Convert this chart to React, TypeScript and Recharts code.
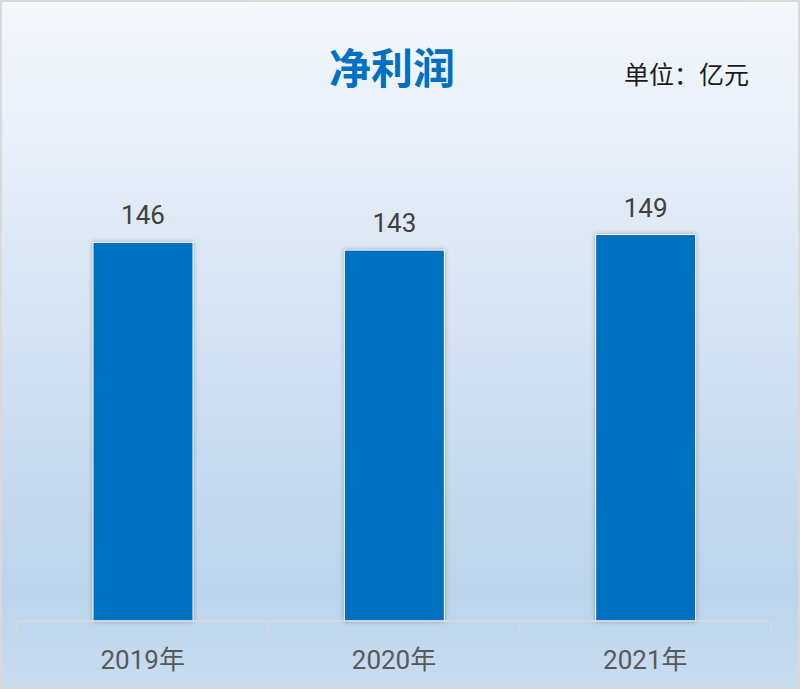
import { BarChart, Bar, XAxis, YAxis, LabelList } from 'recharts';

const years = ['2019年', '2020年', '2021年'];
const profits = [146, 143, 149];

const W = 800;
const H = 689;
const LEFT = 17;
const RIGHT = 29;
const BAND = (W - LEFT - RIGHT) / years.length;
const FONT = "Roboto, 'Noto Sans CJK SC', sans-serif";

const chartData = years.map((year, i) => ({ year, value: profits[i] }));

function YearTick(props: any) {
  const { x, y, payload, index } = props;
  const left = x - BAND / 2;
  const right = x + BAND / 2;
  return (
    <g>
      <line x1={left} x2={left} y1={y} y2={y + 11} stroke="#d9d9d9" strokeWidth={1.5} />
      {index === years.length - 1 && (
        <line x1={right} x2={right} y1={y} y2={y + 11} stroke="#d9d9d9" strokeWidth={1.5} />
      )}
      <text x={x} y={y + 48} textAnchor="middle" fill="#595959" fontSize={26} fontFamily={FONT}>
        {payload.value}
      </text>
    </g>
  );
}

function ShadowBar(props: any) {
  const { x, y, width, height } = props;
  return (
    <rect
      x={x}
      y={y}
      width={width}
      height={height}
      fill="#0070c0"
      stroke="#ffffff"
      strokeWidth={1}
      style={{ filter: 'drop-shadow(0px 0px 2px rgba(0,0,0,0.3))' }}
    />
  );
}

export default function App() {
  return (
    <div
      style={{
        position: 'fixed',
        left: 0,
        top: 0,
        width: W,
        height: H,
        background: 'linear-gradient(to bottom, #f5f8fd 0%, #dae6f4 40%, #bcd4eb 86%, #c9ddf0 100%)',
        boxShadow: 'inset 0 0 0 2px #d9d9d9',
      }}
    >
      <div
        style={{
          position: 'absolute',
          left: 0,
          width: 784,
          top: 38,
          textAlign: 'center',
          fontFamily: "'Noto Sans CJK SC', sans-serif",
          fontWeight: 700,
          fontSize: 42,
          lineHeight: '56px',
          color: '#0070c0',
        }}
      >
        净利润
      </div>
      <div
        style={{
          position: 'absolute',
          left: 624,
          top: 55,
          fontFamily: "'Noto Sans CJK SC', sans-serif",
          fontSize: 25,
          lineHeight: '36px',
          color: '#1a1a1a',
        }}
      >
        单位：亿元
      </div>
      <div style={{ position: 'absolute', left: 0, top: 0 }}>
        <BarChart
          width={W}
          height={H}
          data={chartData}
          margin={{ top: 206, right: RIGHT, left: LEFT, bottom: 18 }}
        >
          <XAxis
            dataKey="year"
            height={50}
            axisLine={{ stroke: '#d9d9d9', strokeWidth: 1.5 }}
            tickLine={false}
            tickSize={0}
            tickMargin={0}
            tick={<YearTick />}
            interval={0}
          />
          <YAxis hide domain={[0, 160]} />
          <Bar dataKey="value" barSize={100} shape={<ShadowBar />} isAnimationActive={false}>
            <LabelList
              dataKey="value"
              position="top"
              offset={18}
              fill="#404040"
              fontSize={26}
              fontFamily={FONT}
            />
          </Bar>
        </BarChart>
      </div>
    </div>
  );
}
